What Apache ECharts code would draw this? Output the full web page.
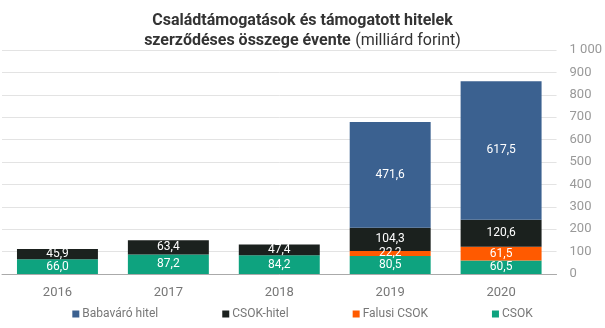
<!DOCTYPE html>
<html><head><meta charset="utf-8">
<script src="https://cdn.jsdelivr.net/npm/echarts@6/dist/echarts.min.js"></script>
<style>html,body{margin:0;padding:0;background:#fff}#c{width:605px;height:328px}</style>
</head><body><div id="c"></div>
<script>
const years = ['2016','2017','2018','2019','2020'];
const csok = [66.0, 87.2, 84.2, 80.5, 60.5];
const falusi = [null, null, null, 22.2, 61.5];
const csokHitel = [45.9, 63.4, 47.4, 104.3, 120.6];
const babavaro = [null, null, null, 471.6, 617.5];
const yTicks = [0, 1000, 100];

const chart = echarts.init(document.getElementById('c'));
const fmt = p => p.value == null ? '' : p.value.toFixed(1).replace('.', ',');
function s(name, data, color) {
  return {
    name, type: 'bar', stack: 'a', data, barWidth: '73%',
    itemStyle: { color },
    label: { show: true, position: 'inside', color: '#fff', fontSize: 12, fontFamily: 'Roboto', formatter: fmt }
  };
}
chart.setOption({
  animation: false,
  textStyle: { fontFamily: 'Roboto' },
  title: {
    left: 'center', top: 6,
    text: '{b|Családtámogatások és támogatott hitelek}\n{b|szerződéses összege évente} {n|(milliárd forint)}',
    textStyle: {
      rich: {
        b: { fontSize: 16, fontWeight: 'bold', color: '#333', fontFamily: 'Roboto', lineHeight: 20 },
        n: { fontSize: 16, fontWeight: 'normal', color: '#333', fontFamily: 'Roboto', lineHeight: 20 }
      }
    }
  },
  legend: {
    bottom: 3, left: 'center', itemGap: 64, itemWidth: 7, itemHeight: 7, icon: 'rect',
    data: ['Babaváró hitel', 'CSOK-hitel', 'Falusi CSOK', 'CSOK'],
    textStyle: { color: '#777', fontSize: 12, fontFamily: 'Roboto', padding: [0, 0, 0, -2] }
  },
  grid: { left: 2, right: 45, top: 50, bottom: 54 },
  xAxis: {
    type: 'category', data: years,
    axisTick: { show: false },
    axisLine: { lineStyle: { color: '#aaa' } },
    axisLabel: { color: '#777', fontSize: 13, margin: 12, fontFamily: 'Roboto' }
  },
  yAxis: {
    type: 'value', position: 'right', min: yTicks[0], max: yTicks[1], interval: yTicks[2],
    axisLine: { show: false }, axisTick: { show: false },
    splitLine: { lineStyle: { color: '#e3e3e3' } },
    axisLabel: { color: '#999', fontSize: 13, margin: 13, fontFamily: 'Roboto',
      formatter: v => v >= 1000 ? String(v).replace(/\B(?=(\d{3})+$)/g, ' ') : String(v) }
  },
  series: [
    s('CSOK', csok, '#0ea37f'),
    s('Falusi CSOK', falusi, '#ff5a00'),
    s('CSOK-hitel', csokHitel, '#1b211e'),
    s('Babaváró hitel', babavaro, '#3b6190')
  ]
});
</script></body></html>
